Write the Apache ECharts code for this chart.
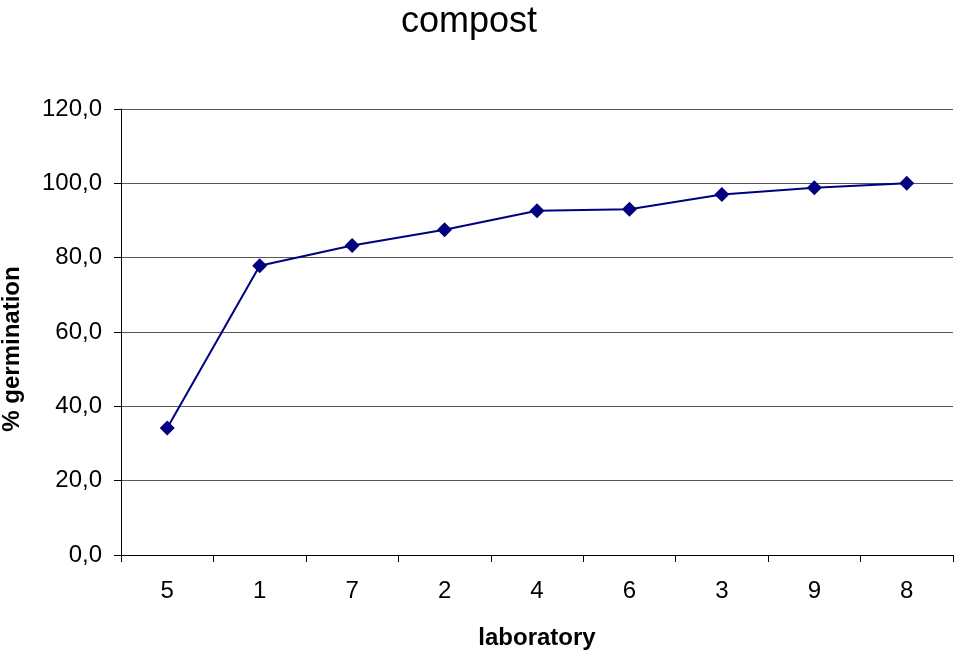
<!DOCTYPE html>
<html>
<head>
<meta charset="utf-8">
<script src="https://cdn.jsdelivr.net/npm/echarts@6/dist/echarts.min.js"></script>
<style>html,body{margin:0;padding:0;background:#fff;}#c{width:957px;height:652px;}</style>
</head>
<body>
<div id="c"></div>
<script>
const categories = ['5', '1', '7', '2', '4', '6', '3', '9', '8'];
const germination = [34.2, 77.8, 83.3, 87.5, 92.6, 93.0, 97.0, 98.8, 100.0];
const yTicks = [0, 20, 40, 60, 80, 100, 120];

const chart = echarts.init(document.getElementById('c'), null, {renderer: 'canvas'});
chart.setOption({
  backgroundColor: '#fff',
  animation: false,
  title: {
    text: 'compost', left: 401, top: 4, padding: 0,
    textStyle: {fontFamily: 'Liberation Sans', fontSize: 36, fontWeight: 'normal', color: '#000'}
  },
  grid: {left: 121, right: 4, top: 109, bottom: 97, containLabel: false, outerBoundsMode: 'none'},
  xAxis: {
    type: 'category', data: categories, boundaryGap: true,
    name: 'laboratory', nameLocation: 'middle', nameGap: 71,
    nameTextStyle: {fontFamily: 'Liberation Sans', fontSize: 24, fontWeight: 'bold', color: '#000'},
    axisLine: {lineStyle: {color: '#000', width: 1}},
    axisTick: {show: true, length: 7, lineStyle: {color: '#000'}},
    axisLabel: {fontFamily: 'Liberation Sans', fontSize: 24, color: '#000', margin: 24}
  },
  yAxis: {
    type: 'value', min: yTicks[0], max: yTicks[yTicks.length - 1], interval: 20,
    name: '% germination', nameLocation: 'middle', nameGap: 97,
    nameTextStyle: {fontFamily: 'Liberation Sans', fontSize: 24, fontWeight: 'bold', color: '#000',
      padding: [0, 34, 0, 0]},
    axisLine: {show: true, lineStyle: {color: '#000', width: 1}},
    axisTick: {show: true, length: 7, lineStyle: {color: '#000'}},
    axisLabel: {
      fontFamily: 'Liberation Sans', fontSize: 24, color: '#000', margin: 19,
      formatter: v => v.toFixed(1).replace('.', ',')
    },
    splitLine: {show: true, lineStyle: {color: '#555', width: 1}}
  },
  series: [{
    type: 'line', data: germination,
    symbol: 'diamond', symbolSize: 15,
    lineStyle: {color: '#000080', width: 2},
    itemStyle: {color: '#000080'}
  }]
});
</script>
</body>
</html>
